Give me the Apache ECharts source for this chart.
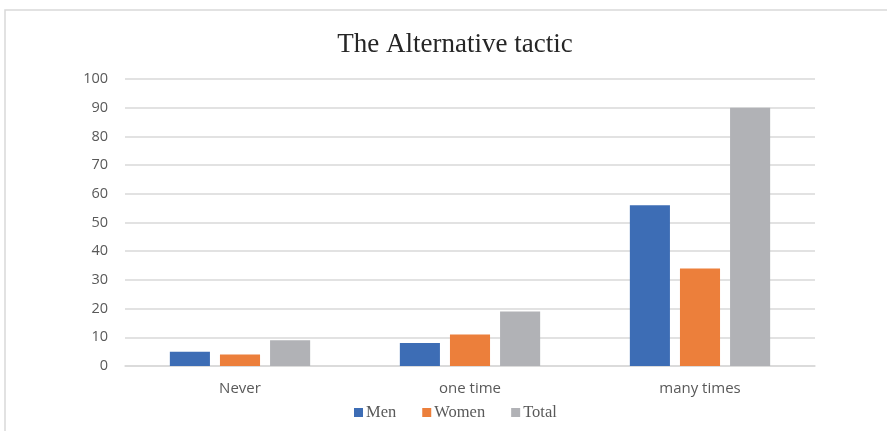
<!DOCTYPE html>
<html>
<head>
<meta charset="utf-8">
<script src="https://cdn.jsdelivr.net/npm/echarts@6/dist/echarts.min.js"></script>
<style>html,body{margin:0;padding:0;background:#fff;}#c{width:887px;height:431px;}</style>
</head>
<body>
<div id="c"></div>
<script>
const categories = ['Never', 'one time', 'many times'];
const men = [5, 8, 56];
const women = [4, 11, 34];
const total = [9, 19, 90];
const yTicks = [0, 10, 20, 30, 40, 50, 60, 70, 80, 90, 100];

const chart = echarts.init(document.getElementById('c'));
const barStyle = (c) => ({ color: c });
chart.setOption({
  animation: false,
  backgroundColor: '#fff',
  graphic: [{
    type: 'rect', shape: { x: 5, y: 10, width: 900, height: 440 },
    style: { fill: 'none', stroke: '#d9d9d9', lineWidth: 1.5 }, silent: true, z: -1
  }],
  title: {
    text: 'The Alternative tactic', left: 450, top: 26, textAlign: 'center',
    textStyle: { fontFamily: 'Liberation Serif', fontSize: 27, fontWeight: 'normal', color: '#262626' }
  },
  legend: {
    data: ['Men', 'Women', 'Total'], left: 349, top: 399,
    itemWidth: 9, itemHeight: 9, itemGap: 26, icon: 'rect',
    textStyle: { fontFamily: 'Liberation Serif', fontSize: 16.5, color: '#595959', padding: [0, 0, 0, -2] }
  },
  grid: { left: 125, right: 72, top: 79, bottom: 65, containLabel: false },
  xAxis: {
    type: 'category', data: categories,
    axisLine: { lineStyle: { color: '#d9d9d9', width: 1.5 } },
    axisTick: { show: false },
    axisLabel: { fontFamily: 'Open Sans', fontSize: 15, color: '#595959', margin: 15 }
  },
  yAxis: {
    type: 'value', min: yTicks[0], max: yTicks[yTicks.length - 1], interval: 10,
    axisLine: { show: false }, axisTick: { show: false },
    splitLine: { lineStyle: { color: '#d9d9d9', width: 1.5 } },
    axisLabel: { fontFamily: 'Open Sans', fontSize: 14.5, color: '#595959', margin: 17 }
  },
  series: [
    { name: 'Men', type: 'bar', data: men, itemStyle: barStyle('#3d6db5'), barGap: '25%', barCategoryGap: '39%' },
    { name: 'Women', type: 'bar', data: women, itemStyle: barStyle('#ec7f3b'), barGap: '25%', barCategoryGap: '39%' },
    { name: 'Total', type: 'bar', data: total, itemStyle: barStyle('#b1b2b6'), barGap: '25%', barCategoryGap: '39%' }
  ]
});
</script>
</body>
</html>
